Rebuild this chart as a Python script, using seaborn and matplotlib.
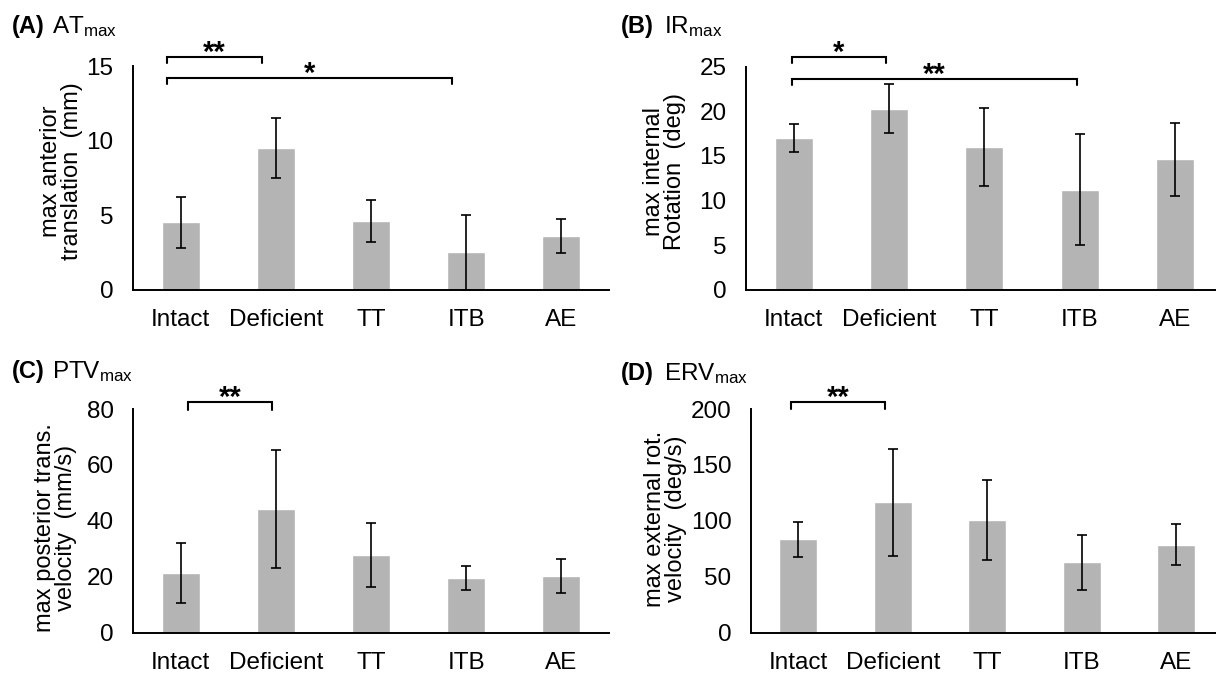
import numpy as np
import pandas as pd
import matplotlib
matplotlib.use("Agg")
import matplotlib.pyplot as plt
import seaborn as sns
from matplotlib.ticker import FixedLocator, MultipleLocator

# ---- data: group means and standard deviations ----
categories = ["Intact", "Deficient", "TT", "ITB", "AE"]

at_mean = [4.5, 9.5, 4.6, 2.5, 3.6]
at_sd = [1.7, 2.0, 1.4, 2.5, 1.15]

ir_mean = [17.0, 20.3, 16.0, 11.2, 14.6]
ir_sd = [1.55, 2.75, 4.4, 6.2, 4.1]

ptv_mean = [21.4, 44.2, 27.8, 19.5, 20.3]
ptv_sd = [10.7, 21.2, 11.5, 4.4, 6.2]

erv_mean = [83.5, 116.5, 100.8, 63.0, 78.8]
erv_sd = [15.7, 48.0, 35.5, 24.4, 18.7]

# significance brackets: (group a, group b, label)
at_sig = [("Intact", "Deficient", "**"), ("Intact", "ITB", "*")]
ir_sig = [("Intact", "Deficient", "*"), ("Intact", "ITB", "**")]
ptv_sig = [("Intact", "Deficient", "**")]
erv_sig = [("Intact", "Deficient", "**")]

sns.set_theme(style="white")
plt.rcParams["font.family"] = ["Liberation Sans", "DejaVu Sans"]
plt.rcParams["mathtext.fontset"] = "custom"
plt.rcParams["mathtext.rm"] = "Liberation Sans"
plt.rcParams["mathtext.it"] = "Liberation Sans"
plt.rcParams["text.color"] = "black"
plt.rcParams["axes.labelcolor"] = "black"

FS_TICK = 17.5
FS_LABEL = 17
BAR = "#b4b4b4"

W, H = 1216, 679
fig = plt.figure(figsize=(W / 100, H / 100), dpi=100)
fig.patch.set_facecolor("white")


def px_axes(left, right, top, bottom):
    return fig.add_axes([left / W, 1 - bottom / H, (right - left) / W, (bottom - top) / H])


panels = [
    dict(rect=(133, 609, 66, 289.5), xmax=4.5, mean=at_mean, sd=at_sd, ymax=15, step=5,
         ylabel="max anterior\ntranslation  (mm)", label_xy=(83, 0.53), letter="(A)", name="AT",
         sig=at_sig, sig_y=[(15.6, 15.2), (14.2, 13.77)], shift=(-0.14, -0.15),
         tpos=(12, 33, 52)),
    dict(rect=(746, 1216, 66.5, 290), xmax=4.43, mean=ir_mean, sd=ir_sd, ymax=25, step=5,
         ylabel="max internal\nRotation  (deg)", label_xy=(686, 0.53), letter="(B)", name="IR",
         sig=ir_sig, sig_y=[(26.05, 25.35), (23.65, 22.95)], shift=(-0.02, -0.03),
         tpos=(621, 33, 664)),
    dict(rect=(133, 609, 409, 632.7), xmax=4.5, mean=ptv_mean, sd=ptv_sd, ymax=80, step=20,
         ylabel="max posterior trans.\nvelocity  (mm/s)", label_xy=(77, 0.47), letter="(C)",
         name="PTV", sig=ptv_sig, sig_y=[(82.5, 79.6)], shift=(0.08, -0.04),
         tpos=(12, 378, 52)),
    dict(rect=(751, 1216, 409, 632.7), xmax=4.42, mean=erv_mean, sd=erv_sd, ymax=200, step=50,
         ylabel="max external rot.\nvelocity  (deg/s)", label_xy=(687, 0.51), letter="(D)",
         name="ERV", sig=erv_sig, sig_y=[(206.3, 199.7)], shift=(-0.08, -0.08),
         tpos=(621, 380, 664)),
]

for p in panels:
    ax = px_axes(*p["rect"])
    df = pd.DataFrame({"group": categories, "value": p["mean"], "sd": p["sd"]})
    sns.barplot(data=df, x="group", y="value", color=BAR, saturation=1, width=0.4,
                errorbar=None, ax=ax, zorder=2)
    ax.errorbar(np.arange(len(categories)), df["value"], yerr=df["sd"], fmt="none",
                ecolor="black", elinewidth=1.2, capsize=3.6, capthick=1.2, zorder=3)

    ax.set_xlim(-0.5, p["xmax"])
    ax.set_ylim(0, p["ymax"])
    ax.yaxis.set_major_locator(MultipleLocator(p["step"]))
    ax.yaxis.set_minor_locator(FixedLocator([p["ymax"]]))
    for side in ("top", "right"):
        ax.spines[side].set_visible(False)
    for side in ("left", "bottom"):
        ax.spines[side].set_linewidth(1.4)
        ax.spines[side].set_color("black")
    ax.tick_params(axis="y", which="major", length=0, pad=14, labelsize=FS_TICK, colors="black")
    ax.tick_params(axis="y", which="minor", direction="in", length=5, width=1.3, color="black")
    ax.tick_params(axis="x", which="major", length=0, pad=14, labelsize=FS_TICK, colors="black")
    ax.set_xlabel("")
    ax.set_ylabel(p["ylabel"], fontsize=FS_LABEL, linespacing=0.92, color="black")
    left, right = p["rect"][0], p["rect"][1]
    lx_px, ly_frac = p["label_xy"]
    ax.yaxis.set_label_coords((lx_px - left) / (right - left), ly_frac)

    # significance brackets
    idx = {c: i for i, c in enumerate(categories)}
    s0, s1 = p["shift"]
    for (a, b, lab), (ytop, ybot) in zip(p["sig"], p["sig_y"]):
        xa, xb = idx[a] + s0, idx[b] + s1
        ax.plot([xa, xa, xb, xb], [ybot, ytop, ytop, ybot], color="black", lw=1.5,
                clip_on=False, solid_joinstyle="miter", zorder=4)
        ax.annotate(lab, xy=((xa + xb) / 2, ytop), xytext=(0, -3),
                    textcoords="offset points", ha="center", va="baseline",
                    fontsize=21, fontweight="bold", annotation_clip=False)

    # panel heading
    tx, base, nx = p["tpos"]
    fig.text(tx / W, 1 - base / H, p["letter"], fontsize=FS_LABEL, fontweight="bold",
             va="baseline", ha="left")
    fig.text(nx / W, 1 - base / H, p["name"] + r"$_{\mathrm{max}}$", fontsize=FS_LABEL + 0.5,
             va="baseline", ha="left")

fig.savefig("out.png", dpi=100, facecolor="white")
